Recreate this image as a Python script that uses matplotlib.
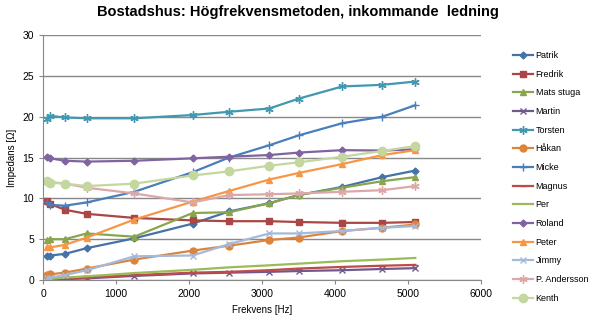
import matplotlib.pyplot as plt

plt.rcParams['font.family'] = ['Liberation Sans', 'DejaVu Sans']

# frekvens i Hz
freq = [50, 100, 300, 600, 1250, 2050, 2550, 3100, 3500, 4100, 4650, 5100]

patrik = [3.0, 3.0, 3.2, 3.9, 5.1, 6.9, 8.4, 9.4, 10.4, 11.4, 12.6, 13.4]
fredrik = [9.7, 9.3, 8.6, 8.1, 7.6, 7.3, 7.2, 7.2, 7.1, 7.0, 7.0, 7.1]
mats = [4.9, 5.0, 5.0, 5.7, 5.3, 8.2, 8.3, 9.4, 10.4, 11.3, 12.1, 12.6]
martin = [0.0, 0.05, 0.1, 0.2, 0.5, 0.8, 0.9, 1.0, 1.1, 1.2, 1.35, 1.45]
torsten = [19.7, 20.1, 19.9, 19.8, 19.8, 20.2, 20.6, 21.0, 22.2, 23.7, 23.9, 24.3]
hakan = [0.6, 0.7, 0.9, 1.4, 2.5, 3.6, 4.2, 4.9, 5.2, 6.0, 6.4, 6.8]
micke = [9.5, 9.2, 9.1, 9.5, 10.8, 13.2, 15.0, 16.5, 17.7, 19.2, 20.0, 21.4]
magnus = [0.05, 0.1, 0.2, 0.3, 0.6, 0.9, 1.0, 1.2, 1.4, 1.6, 1.75, 1.85]
per = [0.1, 0.15, 0.3, 0.45, 0.85, 1.25, 1.55, 1.8, 2.0, 2.3, 2.5, 2.7]
roland = [15.1, 14.9, 14.6, 14.5, 14.6, 14.9, 15.1, 15.3, 15.6, 15.9, 15.85, 16.0]
peter = [4.0, 4.0, 4.3, 5.2, 7.4, 9.6, 10.9, 12.3, 13.1, 14.2, 15.3, 15.9]
jimmy = [0.2, 0.3, 0.6, 1.2, 2.9, 3.0, 4.4, 5.7, 5.7, 6.0, 6.4, 6.6]
p_andersson = [12.1, 12.0, 11.8, 11.3, 10.6, 9.5, 10.4, 10.5, 10.6, 10.8, 11.0, 11.5]
kenth = [12.1, 11.9, 11.8, 11.5, 11.8, 12.8, 13.3, 14.0, 14.4, 15.1, 15.8, 16.4]

names = ['Patrik', 'Fredrik', 'Mats stuga', 'Martin', 'Torsten', 'Håkan', 'Micke',
         'Magnus', 'Per', 'Roland', 'Peter', 'Jimmy', 'P. Andersson', 'Kenth']
series = [patrik, fredrik, mats, martin, torsten, hakan, micke,
          magnus, per, roland, peter, jimmy, p_andersson, kenth]
colors = ['#4572A7', '#AA4643', '#89A54E', '#71588F', '#4198AF', '#DB843D', '#4A7EBB',
          '#BE4B48', '#9BBB59', '#8064A2', '#F79646', '#A5B9DA', '#DCA8A7', '#C4D79E']
markers = ['D', 's', '^', 'x', (6, 2, 0), 'o', '+', '_', None, 'D', '^', 'x', (6, 2, 0), 'o']
msizes = [3.5, 5, 5, 4.5, 6, 5, 6, 4, 0, 3.5, 5, 5, 6, 6]

fig = plt.figure(figsize=(5.95, 3.28), dpi=100)
ax = fig.add_axes([43/595, 48/328, 438/595, 245/328])

for name, y, c, m, s in zip(names, series, colors, markers, msizes):
    ax.plot(freq, y, color=c, lw=1.6, marker=m, markersize=s,
            markeredgewidth=1.0, label=name)

ax.set_xlim(0, 6000)
ax.set_ylim(0, 30)
ax.set_xticks(range(0, 6001, 1000))
ax.set_yticks(range(0, 31, 5))
ax.yaxis.grid(True, color='#888888', lw=1)
ax.set_axisbelow(True)
for sp in ['top', 'right']:
    ax.spines[sp].set_visible(False)
for sp in ['left', 'bottom']:
    ax.spines[sp].set_color('#888888')
ax.tick_params(labelsize=7.5, length=3, color='#888888')
ax.set_xlabel('Frekvens [Hz]', fontsize=7)
ax.set_ylabel('Impedans [Ω]', fontsize=7)
fig.suptitle('Bostadshus: Högfrekvensmetoden, inkommande  ledning',
             fontsize=10.5, fontweight='bold', x=0.5, y=0.985)

fig.legend(loc='upper left', bbox_to_anchor=(505/595, 1 - 43/328), frameon=False,
           fontsize=6.5, handlelength=2.2, labelspacing=1.07, handletextpad=0.3)

plt.savefig('out.png', dpi=100)
